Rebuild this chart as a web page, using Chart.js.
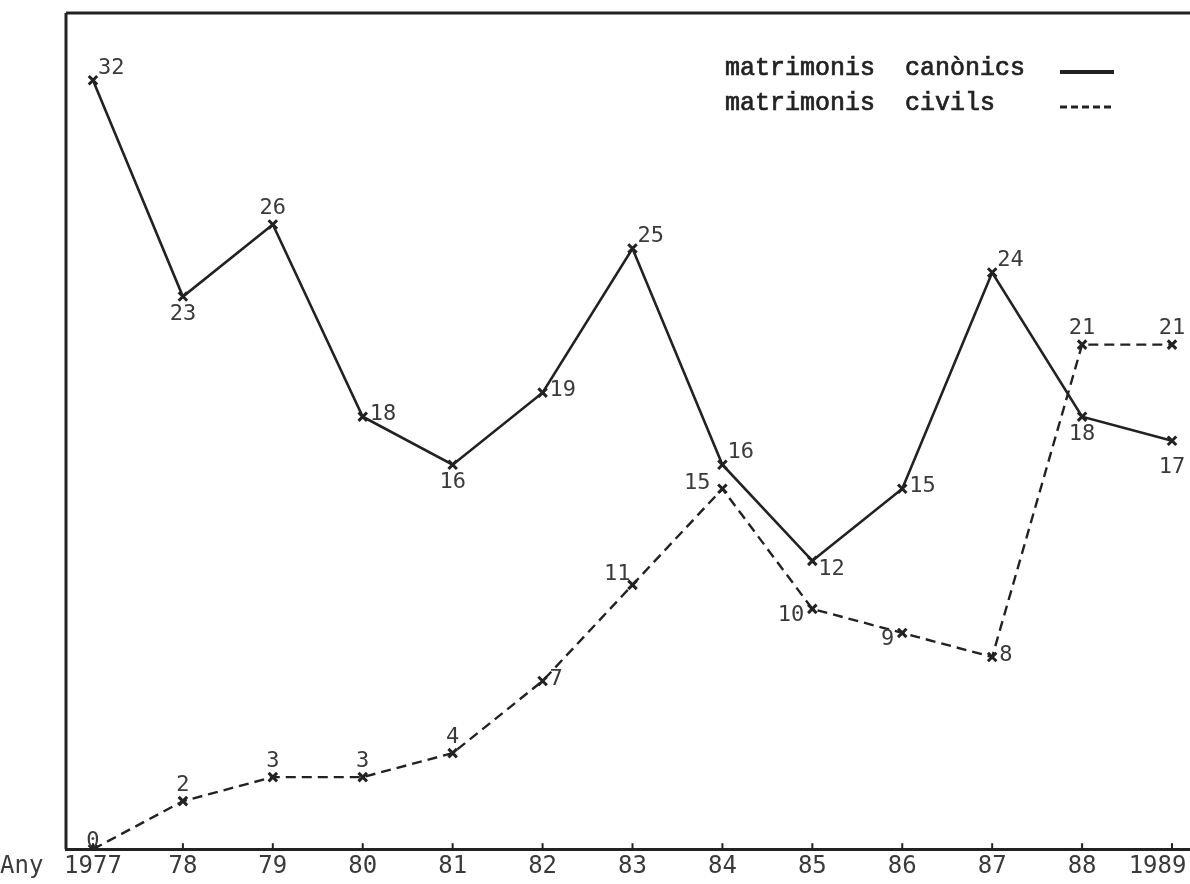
<!DOCTYPE html>
<html>
<head>
<meta charset="utf-8">
<script src="https://cdn.jsdelivr.net/npm/chart.js@4/dist/chart.umd.min.js"></script>
<style>
    html, body { margin: 0; padding: 0; background: #fff; }
    #chart { display: block; }
</style>
</head>
<body>
<canvas id="chart" width="1190" height="884"></canvas>
<script>
// Data
const years = [1977, 1978, 1979, 1980, 1981, 1982, 1983, 1984, 1985, 1986, 1987, 1988, 1989];
const yearLabels = ['1977', '78', '79', '80', '81', '82', '83', '84', '85', '86', '87', '88', '1989'];
const canonics = [32, 23, 26, 18, 16, 19, 25, 16, 12, 15, 24, 18, 17];
const civils = [0, 2, 3, 3, 4, 7, 11, 15, 10, 9, 8, 21, 21];

// where each value label sits next to its point
const canonicsLabelSide = ['ne', 's', 'n', 'e', 's', 'e', 'ne', 'ne', 'se', 'e', 'ne', 's', 'ss'];
const civilsLabelSide = ['c', 'n', 'n', 'n', 'n', 'e', 'nw', 'w', 'sw', 'sw', 'e', 'n', 'n'];

const legendItems = [
    { text: 'matrimonis  canònics', dash: [] },
    { text: 'matrimonis  civils', dash: [7, 4] }
];

const INK = '#222';
const LABEL_FONT = '22px "DejaVu Sans Mono"';
const LABEL_COLOR = '#3a3a3a';

function toPoints(values) {
    return values.map((v, i) => ({ x: years[i], y: v }));
}

// value labels next to each point
const valueLabels = {
    id: 'valueLabels',
    afterDatasetsDraw(chart) {
        const ctx = chart.ctx;
        const sides = [canonicsLabelSide, civilsLabelSide];
        ctx.save();
        ctx.font = LABEL_FONT;
        ctx.fillStyle = LABEL_COLOR;
        ctx.textBaseline = 'middle';
        chart.data.datasets.forEach((ds, d) => {
            const meta = chart.getDatasetMeta(d);
            meta.data.forEach((pt, i) => {
                const text = String(ds.data[i].y);
                let dx = 0, dy = 0, align = 'center';
                switch (sides[d][i]) {
                    case 'c': dy = -8; break;
                    case 'n': dy = -16; break;
                    case 's': dy = 18; break;
                    case 'ss': dy = 27; break;
                    case 'e': dx = 7; dy = -2; align = 'left'; break;
                    case 'ne': dx = 5; dy = -12; align = 'left'; break;
                    case 'se': dx = 6; dy = 8; align = 'left'; break;
                    case 'w': dx = -12; dy = -5; align = 'right'; break;
                    case 'nw': dx = -2; dy = -11; align = 'right'; break;
                    case 'sw': dx = -8; dy = 6; align = 'right'; break;
                }
                ctx.textAlign = align;
                ctx.fillText(text, pt.x + dx, pt.y + dy);
            });
        });
        ctx.restore();
    }
};

// frame, small ticks, "Any" caption and the typed legend
const frame = {
    id: 'frame',
    afterDraw(chart) {
        const ctx = chart.ctx;
        const area = chart.chartArea;
        const xScale = chart.scales.x;
        ctx.save();
        ctx.strokeStyle = INK;
        ctx.lineWidth = 3;
        ctx.beginPath();
        ctx.moveTo(area.left, area.top);
        ctx.lineTo(chart.width, area.top);
        ctx.moveTo(area.left, area.top);
        ctx.lineTo(area.left, area.bottom);
        ctx.stroke();

        ctx.lineWidth = 2;
        years.forEach(y => {
            const px = xScale.getPixelForValue(y);
            ctx.beginPath();
            ctx.moveTo(px, area.bottom);
            ctx.lineTo(px, area.bottom - 6);
            ctx.stroke();
        });

        ctx.font = '24px "DejaVu Sans Mono"';
        ctx.fillStyle = LABEL_COLOR;
        ctx.textAlign = 'left';
        ctx.textBaseline = 'middle';
        ctx.fillText('Any', 0, area.bottom + 18);

        ctx.font = '25px "Liberation Mono"';
        ctx.fillStyle = INK;
        ctx.textBaseline = 'alphabetic';
        legendItems.forEach((item, i) => {
            const y = 75 + i * 35;
            ctx.setLineDash([]);
            ctx.lineWidth = 0.7;
            ctx.fillText(item.text, 725, y);
            ctx.strokeText(item.text, 725, y);
            ctx.lineWidth = i === 0 ? 4 : 3;
            ctx.setLineDash(item.dash);
            ctx.beginPath();
            ctx.moveTo(1060, y - 3);
            ctx.lineTo(1114, y - 3);
            ctx.stroke();
        });
        ctx.restore();
    }
};

new Chart(document.getElementById('chart'), {
    type: 'line',
    data: {
        datasets: [
            {
                label: 'matrimonis canònics',
                data: toPoints(canonics),
                borderColor: INK,
                borderWidth: 2.6,
                pointStyle: 'crossRot',
                pointRadius: 6,
                pointBorderWidth: 3,
                pointBorderColor: INK,
                tension: 0
            },
            {
                label: 'matrimonis civils',
                data: toPoints(civils),
                borderColor: INK,
                borderWidth: 2.4,
                borderDash: [10, 6],
                pointStyle: 'crossRot',
                pointRadius: 6,
                pointBorderWidth: 3,
                pointBorderColor: INK,
                tension: 0
            }
        ]
    },
    options: {
        responsive: false,
        animation: false,
        layout: {
            autoPadding: false,
            padding: { left: 66, top: 13, right: 0, bottom: 0 }
        },
        plugins: {
            legend: { display: false },
            tooltip: { enabled: false }
        },
        scales: {
            x: {
                type: 'linear',
                min: 1976.7,
                max: 1989.2,
                afterBuildTicks: scale => {
                    scale.ticks = years.map(v => ({ value: v }));
                },
                afterFit: scale => {
                    scale.paddingLeft = 0;
                    scale.paddingRight = 0;
                },
                grid: { display: false, drawTicks: false },
                border: { display: true, color: INK, width: 3 },
                ticks: {
                    autoSkip: false,
                    maxRotation: 0,
                    padding: 3,
                    color: LABEL_COLOR,
                    font: { family: 'DejaVu Sans Mono', size: 24 },
                    // last label sits against the page edge, nudge it left with trailing spaces
                    callback: value => {
                        const i = years.indexOf(value);
                        return i === years.length - 1 ? yearLabels[i] + '\u00a0\u00a0' : yearLabels[i];
                    }
                }
            },
            y: {
                display: false,
                min: 0,
                max: 34.8
            }
        }
    },
    plugins: [valueLabels, frame]
});
</script>
</body>
</html>
